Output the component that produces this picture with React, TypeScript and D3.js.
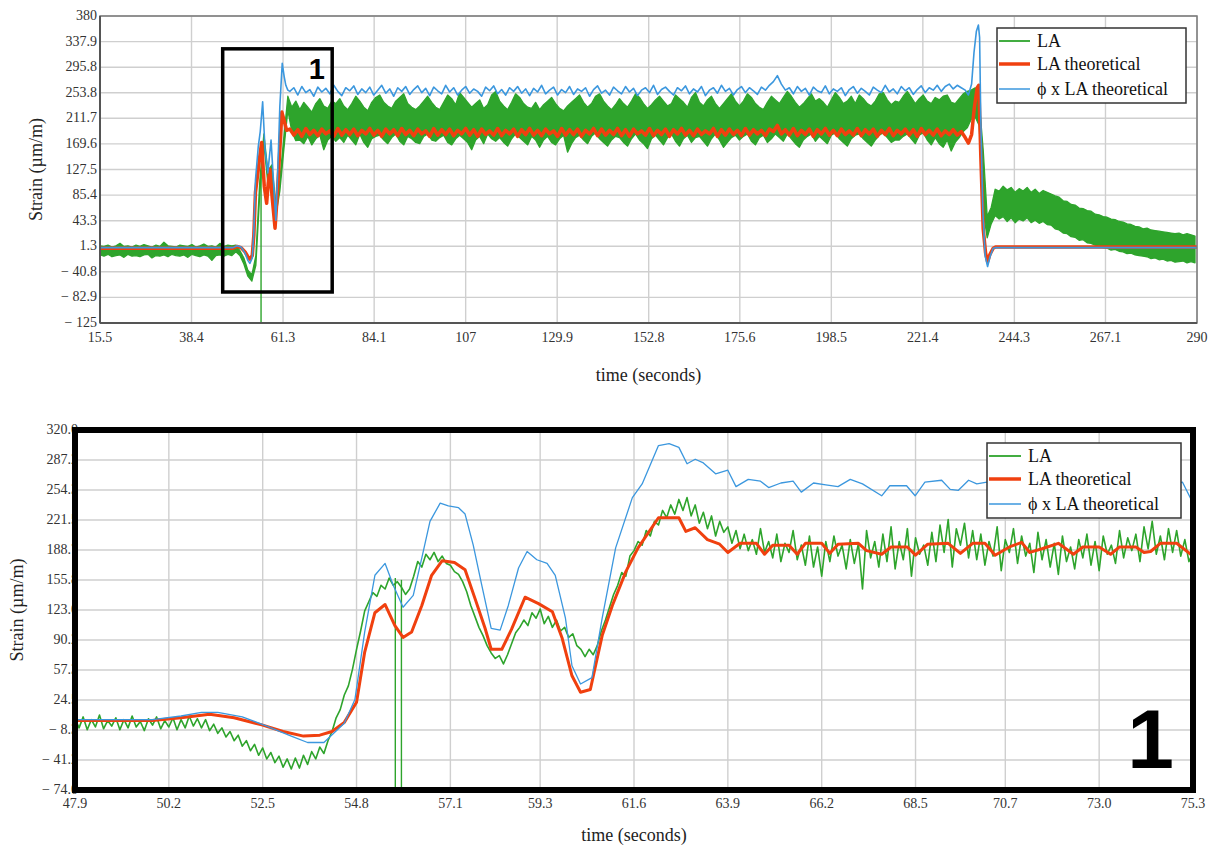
import React from "react";
import * as d3 from "d3";

type Pt = [number, number];

// colours
const GREEN = "#2ea42c";
const RED = "#f0400f";
const BLUE = "#3b97de";

// ---------- top panel: whole run ----------
const topTimeTicks = [15.5, 38.4, 61.3, 84.1, 107, 129.9, 152.8, 175.6, 198.5, 221.4, 244.3, 267.1, 290];
const topStrainTicks = [-125, -82.9, -40.8, 1.3, 43.3, 85.4, 127.5, 169.6, 211.7, 253.8, 295.8, 337.9, 380];

// LA measured: too dense to see single samples at this scale, so read as the
// upper / lower edge of the green band, every 1 s from 15.5 s
const topGreenStart = 15.5;
const topGreenStep = 1;
const topGreenHi = [
  2, 1, 3, 0, 2, 6, 1, 2, 0, 3,
  1, 4, 2, 0, 3, 1, 8, 2, 1, 0,
  3, 2, 1, 4, 0, 2, 5, 1, 2, 0,
  6, 1, 3, 2,
  3, -6, -18, -38, -46, -14, 110, 186, 125, 135, 70, 110, 180, 248, 230, 240,
  226, 238, 230, 222, 236, 244, 232, 228, 240, 236,
  244, 232, 226, 236, 248, 240, 230, 224, 238, 246,
  250, 238, 232, 228, 240, 246, 252, 236, 230, 226,
  232, 240, 248, 238, 230, 226, 238, 250, 244, 234,
  254, 246, 238, 230, 236, 242, 228, 234, 250, 256,
  240, 232, 226, 238, 252, 246, 236, 230, 228, 238,
  226, 234, 240, 246, 236, 228, 224, 232, 238, 244,
  250, 238, 230, 236, 248, 252, 240, 232, 226, 234,
  244, 236, 230, 240, 252, 246, 236, 228, 234, 242,
  248, 240, 232, 236, 250, 244, 238, 230, 246, 254,
  238, 232, 242, 248, 236, 228, 236, 244, 252, 240,
  232, 240, 252, 246, 236, 230, 226, 238, 248, 242,
  236, 246, 256, 248, 238, 230, 236, 244, 252, 240,
  244, 238, 230, 242, 254, 246, 236, 240, 248, 236,
  250, 244, 236, 232, 240, 252, 254, 242, 234, 240,
  238, 248, 256, 246, 236, 244, 250, 240, 236, 246,
  242, 248, 250, 238, 236, 244, 252, 256, 258, 262,
  240, 160, 50, 65, 95, 92, 100, 94, 98, 90,
  96, 92, 98, 90, 95, 88, 93, 90, 87, 84,
  82, 76, 75, 70, 69, 64, 63, 60, 59, 54,
  53, 50, 49, 46, 45, 42, 41, 38, 37, 34,
  33, 30, 31, 28, 27, 26, 25, 24, 23, 22,
  23, 20, 22, 20, 18,
];
const topGreenLo = [
  -13, -15, -12, -16, -14, -13, -17, -12, -15, -14,
  -16, -13, -12, -18, -14, -15, -13, -16, -12, -14,
  -15, -13, -17, -12, -14, -16, -13, -15, -22, -14,
  -13, -15, -12, -14,
  -8, -14, -28, -48, -56, -30, 90, 170, 105, 115, 52, 92, 160, 225, 190, 175,
  176, 170, 182, 168, 178, 184, 160, 176, 182, 174,
  180, 172, 184, 176, 168, 186, 172, 164, 178, 182,
  184, 176, 170, 180, 186, 174, 168, 182, 178, 172,
  170, 182, 186, 176, 174, 180, 184, 172, 168, 178,
  184, 178, 172, 160, 176, 182, 170, 186, 178, 174,
  180, 172, 166, 178, 186, 180, 174, 168, 182, 176,
  164, 176, 182, 172, 168, 178, 184, 156, 170, 180,
  184, 176, 170, 182, 188, 178, 172, 166, 176, 182,
  180, 172, 166, 178, 186, 176, 170, 162, 178, 184,
  176, 168, 180, 186, 174, 166, 178, 184, 172, 180,
  182, 174, 166, 178, 186, 176, 164, 172, 180, 184,
  176, 182, 186, 174, 168, 180, 184, 172, 178, 186,
  180, 174, 186, 178, 170, 164, 176, 182, 186, 174,
  182, 176, 170, 184, 188, 178, 172, 166, 178, 184,
  186, 178, 172, 166, 176, 184, 188, 180, 172, 176,
  176, 182, 186, 178, 170, 184, 188, 176, 168, 180,
  170, 164, 176, 158, 172, 180, 190, 196, 210, 214,
  200, 60, 15, 38, 52, 46, 50, 42, 48, 40,
  46, 43, 48, 40, 44, 39, 42, 37, 36, 30,
  28, 23, 22, 17, 16, 11, 12, 7, 6, 3,
  2, -1, -2, -5, -4, -7, -8, -11, -10, -13,
  -14, -15, -16, -19, -18, -21, -20, -23, -22, -25,
  -24, -23, -26, -24, -26,
];
const topGreenSpikes = [{ t: 55.8, from: 120, to: -170 }];

// LA theoretical
const topRedRise: Pt[] = [
  [15.5, -2], [48.8, -2], [49.8, 1], [50.8, -1], [51.8, -8], [52.5, -16], [53.0, -20], [53.6, -14],
  [54.0, 20], [54.4, 90], [55.1, 127], [55.5, 150], [55.95, 172], [56.6, 100], [57.2, 72], [57.6, 105],
  [58.0, 128], [58.6, 80], [59.3, 31], [59.8, 80], [60.5, 160], [61.0, 222], [61.5, 210], [62.2, 192],
];
const topRedSteadyStart = 63;
const topRedSteady = [
  194, 184, 193, 182, 195, 185, 192, 183, 194, 186,
  191, 182, 195, 184, 193, 185, 194, 183, 192, 186,
  195, 184, 192, 182, 194, 186, 193, 183, 195, 185,
  192, 183, 194, 186, 191, 182, 195, 184, 193, 185,
  194, 183, 192, 186, 195, 184, 193, 182, 194, 185,
  191, 184, 195, 183, 192, 186, 194, 182, 193, 185,
  195, 184, 192, 183, 194, 186, 191, 182, 195, 184,
  193, 185, 194, 182, 192, 186, 195, 183, 194, 184,
  192, 185, 195, 183, 193, 182, 194, 186, 191, 184,
  195, 183, 192, 185, 194, 182, 193, 186, 195, 184,
  192, 183, 194, 185, 191, 186, 195, 182, 193, 184,
  194, 185, 192, 183, 195, 184, 193, 186, 192, 183,
  194, 190, 200, 186, 193, 184, 195, 183, 192, 185,
  194, 182, 193, 186, 195, 184, 192, 183, 194, 185,
  191, 184, 195, 183, 193, 186, 194, 182, 192, 185,
  195, 183, 192, 186, 194, 184, 193, 182, 195, 185,
  192, 184, 194, 183, 191, 185, 193, 184, 190,
];
const topRedDrop: Pt[] = [
  [232, 180], [232.8, 171], [233.6, 185], [234.3, 230], [235.0, 262], [235.4, 266], [235.9, 150],
  [236.5, 30], [237.1, -10], [237.6, -24], [238.2, -12], [239.0, -2], [239.6, 0], [290, 0],
];

// phi x LA theoretical
const topBlueRise: Pt[] = [
  [15.5, -1], [48.8, -1], [49.8, 2], [50.8, 0], [51.8, -10], [52.5, -22], [53.0, -27], [53.6, -18],
  [54.0, 25], [54.4, 110], [55.1, 165], [55.6, 190], [56.2, 239], [56.8, 160], [57.5, 122], [58.3, 176],
  [58.9, 110], [59.5, 44], [60.0, 130], [60.5, 231], [61.1, 302], [61.6, 280], [62.0, 266], [62.5, 258],
];
const topBlueSteadyStart = 63;
const topBlueSteady = [
  256, 262, 250, 264, 254, 259, 248, 263, 255, 261,
  252, 266, 256, 249, 262, 257, 265, 251, 260, 254,
  263, 250, 258, 266, 253, 260, 248, 262, 256, 264,
  251, 259, 265, 254, 261, 249, 263, 257, 252, 266,
  255, 262, 250, 258, 264, 253, 260, 256, 248, 263,
  257, 265, 252, 259, 250, 262, 256, 264, 253, 260,
  249, 261, 255, 266, 252, 258, 263, 250, 259, 254,
  264, 251, 260, 256, 262, 248, 259, 265, 253, 258,
  250, 263, 257, 252, 264, 255, 261, 249, 258, 262,
  254, 266, 251, 259, 263, 256, 250, 262, 257, 265,
  252, 260, 255, 264, 249, 258, 262, 253, 266, 256,
  261, 250, 259, 264, 254, 262, 257, 251, 263, 258,
  266, 272, 282, 268, 258, 262, 252, 264, 256, 261,
  250, 263, 257, 254, 265, 252, 260, 256, 262, 249,
  259, 264, 253, 261, 256, 250, 263, 258, 254, 266,
  255, 260, 252, 264, 257, 262, 251, 259, 265, 254,
  262, 258, 266, 256, 264, 268, 260, 266, 262,
];
const topBlueDrop: Pt[] = [
  [232, 258], [232.8, 250], [233.6, 268], [234.2, 320], [234.8, 355], [235.3, 365], [235.6, 345],
  [235.9, 210], [236.4, 60], [237.0, -15], [237.6, -32], [238.2, -16], [239.0, -2], [239.6, -1], [290, -1],
];

// region shown in the lower panel
const zoomBox = { t0: 46.2, t1: 73.6, v0: -74, v1: 326 };

// ---------- bottom panel: zoom of box 1 ----------
const zoomTimeTicks = [47.9, 50.2, 52.5, 54.8, 57.1, 59.3, 61.6, 63.9, 66.2, 68.5, 70.7, 73.0, 75.3];
const zoomStrainTicks = [-74.0, -41.2, -8.3, 24.5, 57.3, 90.2, 123.0, 155.8, 188.7, 221.5, 254.3, 287.2, 320.0];

// LA measured, sampled every 0.1 s from 47.9 s
const zoomGreenStart = 47.9;
const zoomGreenStep = 0.1;
const zoomGreen = [
  4, -6, 6, -8, 3, -5, 8, -7, 2, -4,
  5, -8, 3, -6, 7, -5, 1, -9, 4, -3,
  6, -7, 2, -5, 5, -8, 3, -6, 7, -4,
  4, -6, 3, -9, -2, -12, -6, -16, -10, -20,
  -14, -26, -20, -31, -24, -36, -28, -40, -33, -44,
  -37, -49, -40, -51, -39, -50, -36, -46, -32, -40,
  -27, -34, -20, -10, 5, 14, 30, 40, 58, 80,
  100, 122, 132, 142, 138, 150, 146, 158, 150, 154,
  148, 140, 146, 160, 176, 170, 184, 178, 186, 176,
  182, 174, 172, 165, 162, 154, 143, 128, 116, 104,
  95, 84, 76, 70, 73, 64, 74, 86, 98, 104,
  112, 106, 120, 114, 124, 108, 116, 104, 112, 100,
  104, 93, 97, 84, 80, 72, 80, 74, 84, 100,
  112, 126, 140, 150, 164, 160, 182, 188, 198, 194,
  210, 204, 220, 216, 232, 224, 238, 228, 244, 232,
  246, 226, 238, 218, 230, 212, 226, 204, 220, 208,
  214, 196, 210, 190, 206, 188, 200, 184, 212, 186,
  198, 180, 206, 176, 196, 186, 210, 178, 194, 172,
  204, 170, 192, 160, 198, 176, 204, 182, 194, 168,
  200, 174, 196, 146, 210, 180, 198, 170, 206, 176,
  214, 168, 198, 178, 212, 160, 202, 184, 194, 172,
  208, 176, 216, 186, 222, 170, 212, 194, 218, 180,
  210, 178, 206, 172, 198, 182, 214, 166, 200, 186,
  212, 174, 204, 182, 196, 164, 208, 178, 200, 170,
  196, 162, 204, 176, 192, 168, 200, 180, 206, 172,
  198, 166, 204, 184, 194, 174, 210, 180, 202, 188,
  206, 176, 214, 190, 220, 184, 204, 178, 212, 186,
  210, 182, 200, 176, 186,
];
const zoomGreenSpikes = [
  { t: 55.75, from: 158, to: -100 },
  { t: 55.9, from: 156, to: -100 },
];

const zoomRed: Pt[] = [
  [47.9, 2], [49.8, 2], [50.5, 5], [51.2, 9], [51.8, 5], [52.5, -3], [53.0, -10], [53.5, -15], [53.9, -14],
  [54.2, -10], [54.5, 0], [54.8, 22], [55.0, 77], [55.25, 120], [55.5, 129], [55.74, 106], [55.94, 93],
  [56.15, 99], [56.4, 128], [56.64, 161], [56.9, 177], [57.2, 175], [57.46, 167], [57.7, 136], [57.95, 103],
  [58.1, 80], [58.36, 80], [58.6, 102], [58.93, 137], [59.26, 130], [59.6, 121], [59.84, 92], [60.08, 51],
  [60.29, 33], [60.53, 36], [60.82, 95], [61.07, 128], [61.4, 165], [61.7, 191], [62.2, 224], [62.7, 224],
  [62.87, 209], [63.1, 213], [63.4, 200], [63.7, 195], [63.9, 186], [64.2, 196], [64.6, 196], [64.8, 184],
  [65.0, 194], [65.4, 194], [65.6, 184], [65.8, 196], [66.2, 196], [66.4, 185], [66.6, 195], [67.1, 196],
  [67.3, 188], [67.67, 184], [67.9, 192], [68.3, 192], [68.5, 183], [68.8, 195], [69.3, 196], [69.6, 185],
  [69.9, 196], [70.2, 196], [70.45, 183], [70.8, 192], [71.1, 197], [71.3, 186], [71.6, 190], [72.0, 196],
  [72.37, 184], [72.6, 192], [73.0, 192], [73.28, 184], [73.5, 192], [73.9, 192], [74.1, 186], [74.26, 187],
  [74.5, 196], [74.9, 196], [75.3, 182],
];

const zoomBlue: Pt[] = [
  [47.9, 3], [49.8, 3], [50.5, 7], [51.0, 11], [51.4, 11], [52.0, 6], [52.6, -4], [53.2, -15], [53.6, -22],
  [54.0, -22], [54.5, -1], [54.76, 25], [55.0, 99], [55.25, 161], [55.5, 174], [55.7, 150], [55.94, 126],
  [56.19, 139], [56.4, 180], [56.6, 220], [56.85, 240], [57.05, 237], [57.3, 235], [57.46, 228], [57.66, 194],
  [57.87, 150], [58.1, 103], [58.32, 101], [58.52, 128], [58.77, 169], [58.98, 187], [59.22, 178], [59.47, 174],
  [59.67, 161], [59.92, 114], [60.08, 62], [60.29, 42], [60.57, 49], [60.82, 114], [61.15, 191], [61.56, 246],
  [61.8, 261], [62.2, 303], [62.46, 305], [62.7, 301], [62.9, 283], [63.1, 288], [63.3, 284], [63.6, 272],
  [63.9, 276], [64.1, 258], [64.4, 266], [64.7, 264], [64.9, 257], [65.2, 262], [65.5, 264], [65.7, 252],
  [66.0, 262], [66.3, 260], [66.6, 258], [66.9, 266], [67.2, 261], [67.67, 248], [67.87, 259], [68.28, 259],
  [68.49, 248], [68.73, 263], [69.14, 265], [69.35, 255], [69.55, 254], [69.8, 265], [70.0, 261], [70.25, 263],
  [70.6, 258], [71.0, 262], [71.4, 256], [71.8, 264], [72.2, 252], [72.6, 262], [73.0, 258], [73.4, 265],
  [73.8, 256], [74.2, 262], [74.6, 258], [75.04, 263], [75.3, 240],
];

const legendLabels = ["LA", "LA theoretical", "\u03d5 x LA theoretical"];
const legendLabelsZoom = ["LA", "LA theoretical", "\u03d5 x LA  theoretical"];

// helpers
const sampled = (start: number, step: number, vals: number[]): Pt[] =>
  vals.map((v, i) => [start + i * step, v] as Pt);

const fmtTop = (v: number) => (v < 0 ? `\u2212 ${Math.abs(v)}` : `${v}`);
const fmtZoom = (v: number) => (v < 0 ? `\u2212 ${Math.abs(v).toFixed(1)}` : v.toFixed(1));

type Box = { left: number; right: number; top: number; bottom: number };
type Spike = { t: number; from: number; to: number };
type Band = { t: number; lo: number; hi: number };

function Legend({ x, y, w, h, labels, textX }: { x: number; y: number; w: number; h: number; labels: string[]; textX: number }) {
  const rows = [y + 13, y + 36, y + 61];
  const colors = [GREEN, RED, BLUE];
  const widths = [1.8, 3.5, 1.5];
  return (
    <g>
      <rect x={x} y={y} width={w} height={h} fill="#fff" stroke="#333" strokeWidth={1.5} />
      {labels.map((l, i) => (
        <g key={l}>
          <line x1={x + 2} x2={textX - 7} y1={rows[i]} y2={rows[i]} stroke={colors[i]} strokeWidth={widths[i]} />
          <text x={textX} y={rows[i] + 6} fontSize={18} fill="#111">{l}</text>
        </g>
      ))}
    </g>
  );
}

function Panel(props: {
  id: string;
  box: Box;
  xDomain: [number, number];
  yDomain: [number, number];
  xTicks: number[];
  yTicks: number[];
  fmt: (v: number) => string;
  green?: Pt[];
  greenBand?: Band[];
  spikes: Spike[];
  red: Pt[];
  blue: Pt[];
  redWidth: number;
  greenWidth: number;
  blueWidth: number;
  yLabelX: number;
  xLabelY: number;
  titleY: number;
  yTitleX: number;
  heavyFrame: boolean;
}) {
  const { id, box, xDomain, yDomain, xTicks, yTicks, fmt } = props;
  const x = d3.scaleLinear().domain(xDomain).range([box.left, box.right]);
  const y = d3.scaleLinear().domain(yDomain).range([box.bottom, box.top]);
  const path = d3.line<Pt>().x((d) => x(d[0])).y((d) => y(d[1]));
  const band = d3.area<Band>().x((d) => x(d.t)).y0((d) => y(d.lo)).y1((d) => y(d.hi));
  const midX = (box.left + box.right) / 2;
  const midY = (box.top + box.bottom) / 2;

  return (
    <g>
      <defs>
        <clipPath id={id}>
          <rect x={box.left} y={box.top} width={box.right - box.left} height={box.bottom - box.top} />
        </clipPath>
      </defs>
      <rect x={box.left} y={box.top} width={box.right - box.left} height={box.bottom - box.top} fill="#fff" />
      {/* grid */}
      {xTicks.map((t) => (
        <line key={"gx" + t} x1={x(t)} x2={x(t)} y1={box.top} y2={box.bottom} stroke="#cfcfcf" strokeWidth={1.4} />
      ))}
      {yTicks.map((t) => (
        <line key={"gy" + t} x1={box.left} x2={box.right} y1={y(t)} y2={y(t)} stroke="#cfcfcf" strokeWidth={1.4} />
      ))}
      {/* series */}
      <g clipPath={`url(#${id})`} fill="none" strokeLinejoin="round">
        {props.greenBand && (
          <path d={band(props.greenBand) ?? ""} fill={GREEN} stroke={GREEN} strokeWidth={props.greenWidth} />
        )}
        {props.green && <path d={path(props.green) ?? ""} stroke={GREEN} strokeWidth={props.greenWidth} />}
        {props.spikes.map((s, i) => (
          <line key={i} x1={x(s.t)} x2={x(s.t)} y1={y(s.from)} y2={y(s.to)} stroke={GREEN} strokeWidth={1.4} />
        ))}
        <path d={path(props.red) ?? ""} stroke={RED} strokeWidth={props.redWidth} />
        <path d={path(props.blue) ?? ""} stroke={BLUE} strokeWidth={props.blueWidth} />
      </g>
      {/* tick labels */}
      <g fontSize={14} fill="#333">
        {yTicks.map((t) => (
          <text key={"ly" + t} x={props.yLabelX} y={y(t) + 4} textAnchor="end">{fmt(t)}</text>
        ))}
        {xTicks.map((t) => (
          <text key={"lx" + t} x={x(t)} y={props.xLabelY} textAnchor="middle">{fmt(t)}</text>
        ))}
      </g>
      {/* frame */}
      {props.heavyFrame ? (
        <rect x={box.left} y={box.top} width={box.right - box.left} height={box.bottom - box.top} fill="none" stroke="#000" strokeWidth={6} />
      ) : (
        <g>
          <rect x={box.left} y={box.top} width={box.right - box.left} height={box.bottom - box.top} fill="none" stroke="#7a7a7a" strokeWidth={1.5} />
          <line x1={box.left} x2={box.left} y1={box.top} y2={box.bottom} stroke="#555" strokeWidth={2} />
          <line x1={box.left} x2={box.right} y1={box.bottom} y2={box.bottom} stroke="#555" strokeWidth={2} />
        </g>
      )}
      {/* titles */}
      <text x={midX} y={props.titleY} textAnchor="middle" fontSize={18} fill="#222">time (seconds)</text>
      <text
        transform={`translate(${props.yTitleX},${midY}) rotate(-90)`}
        textAnchor="middle"
        fontSize={18}
        fill="#222"
      >
        Strain (&#181;m/m)
      </text>
    </g>
  );
}

export default function App() {
  const topBox: Box = { left: 100, right: 1197, top: 16, bottom: 323 };
  const zoomBoxPx: Box = { left: 75, right: 1193, top: 430, bottom: 790 };

  const tx = d3.scaleLinear().domain([15.5, 290]).range([topBox.left, topBox.right]);
  const ty = d3.scaleLinear().domain([-125, 380]).range([topBox.bottom, topBox.top]);

  const topBand: Band[] = topGreenHi.map((hi, i) => ({
    t: topGreenStart + i * topGreenStep,
    lo: topGreenLo[i],
    hi,
  }));
  const topRed = [
    ...topRedRise,
    ...sampled(topRedSteadyStart, 1, topRedSteady),
    ...topRedDrop,
  ];
  const topBlue = [
    ...topBlueRise,
    ...sampled(topBlueSteadyStart, 1, topBlueSteady),
    ...topBlueDrop,
  ];

  return (
    <svg
      width={1210}
      height={845}
      style={{ position: "absolute", left: 0, top: 0, background: "#fff" }}
      fontFamily="'Liberation Serif', 'Times New Roman', serif"
    >
      <rect width={1210} height={845} fill="#fff" />
      <Panel
        id="clipTop"
        box={topBox}
        xDomain={[15.5, 290]}
        yDomain={[-125, 380]}
        xTicks={topTimeTicks}
        yTicks={topStrainTicks}
        fmt={fmtTop}
        greenBand={topBand}
        spikes={topGreenSpikes}
        red={topRed}
        blue={topBlue}
        redWidth={3.5}
        greenWidth={1.3}
        blueWidth={1.6}
        yLabelX={97}
        xLabelY={342}
        titleY={381}
        yTitleX={42}
        heavyFrame={false}
      />
      {/* box 1 marking the zoomed region */}
      <rect
        x={tx(zoomBox.t0)}
        y={ty(zoomBox.v1)}
        width={tx(zoomBox.t1) - tx(zoomBox.t0)}
        height={ty(zoomBox.v0) - ty(zoomBox.v1)}
        fill="none"
        stroke="#000"
        strokeWidth={3.5}
      />
      <text x={325} y={79} textAnchor="end" fontFamily="'Liberation Sans', Arial, sans-serif" fontWeight={700} fontSize={29} fill="#000">1</text>
      <Legend x={997} y={28} w={189} h={75} labels={legendLabels} textX={1037} />

      <Panel
        id="clipZoom"
        box={zoomBoxPx}
        xDomain={[47.9, 75.3]}
        yDomain={[-74, 320]}
        xTicks={zoomTimeTicks}
        yTicks={zoomStrainTicks}
        fmt={fmtZoom}
        green={sampled(zoomGreenStart, zoomGreenStep, zoomGreen)}
        spikes={zoomGreenSpikes}
        red={zoomRed}
        blue={zoomBlue}
        redWidth={3}
        greenWidth={1.6}
        blueWidth={1.3}
        yLabelX={78}
        xLabelY={808}
        titleY={841}
        yTitleX={23}
        heavyFrame={true}
      />
      <Legend x={987} y={443} w={194} h={75} labels={legendLabelsZoom} textX={1028} />
      <text x={1174} y={768} textAnchor="end" fontFamily="'Liberation Sans', Arial, sans-serif" fontWeight={900} fontSize={84} fill="#000">1</text>
    </svg>
  );
}
